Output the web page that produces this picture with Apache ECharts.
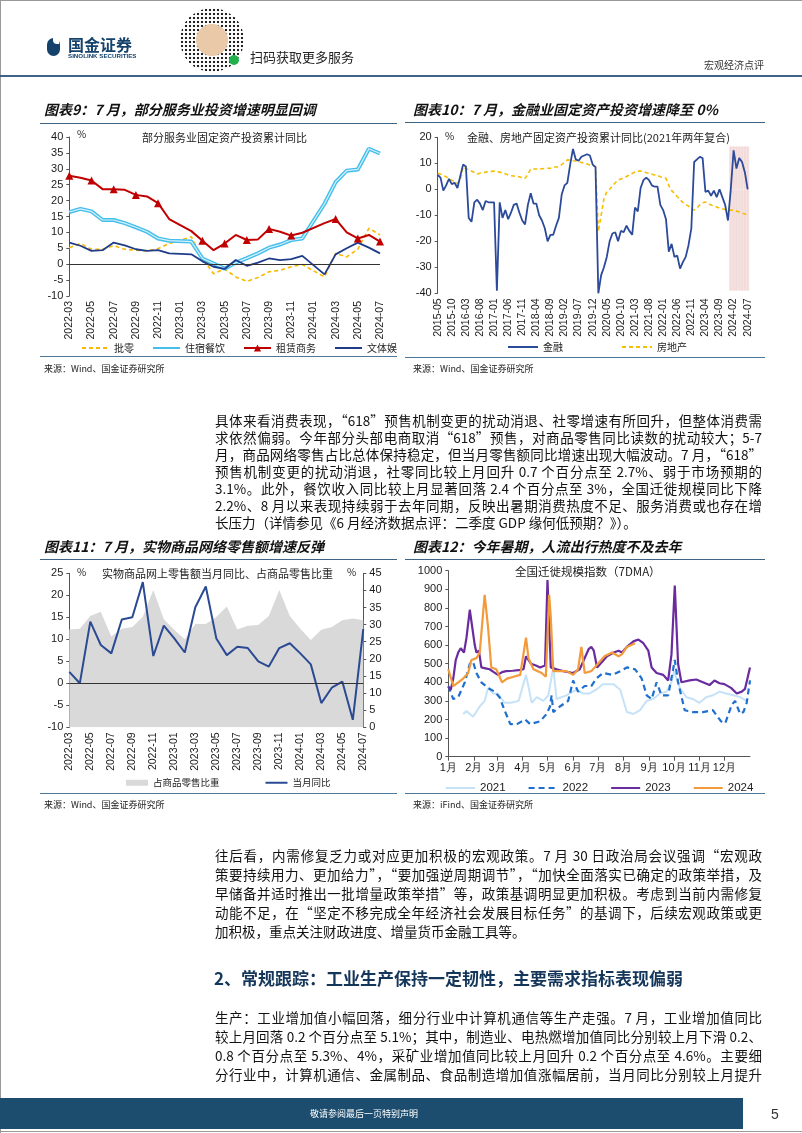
<!DOCTYPE html>
<html><head><meta charset="utf-8">
<script src="https://cdn.jsdelivr.net/npm/echarts@6/dist/echarts.min.js"></script>
<style>
html,body{margin:0;padding:0;background:#fff;}
#page{position:relative;width:802px;height:1133px;overflow:hidden;font-family:"Noto Sans CJK SC",sans-serif;color:#111;}
#chart{position:absolute;left:0;top:0;width:802px;height:1133px;}
.abs{position:absolute;white-space:nowrap;}
.hl{position:absolute;height:0;border-top:1.5px solid #3E6485;}
.ct{position:absolute;white-space:nowrap;font-weight:bold;font-style:italic;font-size:14px;line-height:16px;color:#111;}
.src{position:absolute;white-space:nowrap;font-size:9px;line-height:10px;color:#222;}
.inner{position:absolute;white-space:nowrap;font-size:11px;line-height:12px;color:#222;}
.ln{position:absolute;left:215px;width:547px;height:18px;line-height:18px;font-size:13.5px;white-space:nowrap;text-align:justify;text-align-last:justify;color:#111;}
.ln.last{text-align-last:left;}
</style></head>
<body><div id="page">
<div id="chart"></div>

<!-- header -->
<div class="abs" style="left:0;top:0;width:802px;height:0;border-top:1px solid #999"></div>
<div class="abs" style="left:0;top:0;width:0;height:1133px;border-left:1px solid #999"></div>
<div class="abs" style="left:47px;top:38px;width:13px;height:18px;border-radius:7px;background:#15426B"></div>
<div class="abs" style="left:53px;top:38px;width:6px;height:6px;background:#fff;border-radius:0 0 0 4px"></div>
<div class="abs" style="left:68px;top:35px;font-size:16px;font-weight:bold;color:#15426B;line-height:18px">国金证券</div>
<div class="abs" style="left:68px;top:52px;font-size:6.2px;font-weight:bold;color:#15426B;line-height:8px;font-family:'Liberation Sans',Arial">SINOLINK SECURITIES</div>
<div class="abs" style="left:180px;top:8px;width:64px;height:64px;border-radius:32px;background:radial-gradient(circle,#222 1px,transparent 1.6px) 0 0/4px 4px,#fff;"></div>
<div class="abs" style="left:196px;top:24px;width:32px;height:32px;border-radius:16px;background:#E9C9A8"></div>
<div class="abs" style="left:229px;top:55px;width:10px;height:10px;border-radius:5px;background:#21B04B"></div>
<div class="abs" style="left:250px;top:49px;font-size:13px;line-height:16px;color:#222">扫码获取更多服务</div>
<div class="abs" style="left:704px;top:59px;font-size:10px;line-height:12px;color:#333">宏观经济点评</div>
<div class="hl" style="left:0;top:75px;width:802px;border-top-width:2px"></div>

<!-- chart titles -->
<div class="ct" style="left:44px;top:101px">图表9：7 月，部分服务业投资增速明显回调</div>
<div class="hl" style="left:40px;top:123px;width:357px"></div>
<div class="ct" style="left:413px;top:101px">图表10：7 月，金融业固定资产投资增速降至 0%</div>
<div class="hl" style="left:405px;top:122px;width:360px"></div>
<div class="inner" style="left:142px;top:131px">部分服务业固定资产投资累计同比</div>
<div class="inner" style="left:77px;top:128px;font-size:10px">%</div>
<div class="inner" style="left:467px;top:131px">金融、房地产固定资产投资累计同比(2021年两年复合)</div>
<div class="inner" style="left:445px;top:130px;font-size:10px">%</div>
<div class="hl" style="left:40px;top:356px;width:357px;border-top-color:#4E7899"></div>
<div class="hl" style="left:405px;top:357px;width:360px;border-top-color:#4E7899"></div>
<div class="src" style="left:44px;top:364px">来源：Wind、国金证券研究所</div>
<div class="src" style="left:413px;top:364px">来源：Wind、国金证券研究所</div>

<div class="ln" style="top:411px">具体来看消费表现，“618”预售机制变更的扰动消退、社零增速有所回升，但整体消费需</div>
<div class="ln" style="top:428px">求依然偏弱。今年部分头部电商取消“618”预售，对商品零售同比读数的扰动较大；5-7</div>
<div class="ln" style="top:445px">月，商品网络零售占比总体保持稳定，但当月零售额同比增速出现大幅波动。7 月，“618”</div>
<div class="ln" style="top:462px">预售机制变更的扰动消退，社零同比较上月回升 0.7 个百分点至 2.7%、弱于市场预期的</div>
<div class="ln" style="top:479px">3.1%。此外，餐饮收入同比较上月显著回落 2.4 个百分点至 3%，全国迁徙规模同比下降</div>
<div class="ln" style="top:496px">2.2%、8 月以来表现持续弱于去年同期，反映出暑期消费热度不足、服务消费或也存在增</div>
<div class="ln last" style="top:513px">长压力（详情参见《6 月经济数据点评：二季度 GDP 缘何低预期？》）。</div>

<div class="ct" style="left:44px;top:538px">图表11：7 月，实物商品网络零售额增速反弹</div>
<div class="hl" style="left:40px;top:559px;width:357px"></div>
<div class="ct" style="left:413px;top:538px">图表12：今年暑期，人流出行热度不及去年</div>
<div class="hl" style="left:405px;top:559px;width:360px"></div>
<div class="inner" style="left:102px;top:567px">实物商品网上零售额当月同比、占商品零售比重</div>
<div class="inner" style="left:77px;top:566px;font-size:10px">%</div>
<div class="inner" style="left:347px;top:566px;font-size:10px">%</div>
<div class="inner" style="left:515px;top:565px;font-size:11.5px">全国迁徙规模指数（7DMA）</div>
<div class="hl" style="left:40px;top:793px;width:357px;border-top-color:#4E7899"></div>
<div class="hl" style="left:405px;top:793px;width:360px;border-top-color:#4E7899"></div>
<div class="src" style="left:44px;top:800px">来源：Wind、国金证券研究所</div>
<div class="src" style="left:413px;top:800px">来源：iFind、国金证券研究所</div>

<div class="ln" style="top:846px">往后看，内需修复乏力或对应更加积极的宏观政策。7 月 30 日政治局会议强调“宏观政</div>
<div class="ln" style="top:865px">策要持续用力、更加给力”，“要加强逆周期调节”，“加快全面落实已确定的政策举措，及</div>
<div class="ln" style="top:884px">早储备并适时推出一批增量政策举措”等，政策基调明显更加积极。考虑到当前内需修复</div>
<div class="ln" style="top:903px">动能不足，在“坚定不移完成全年经济社会发展目标任务”的基调下，后续宏观政策或更</div>
<div class="ln last" style="top:922px">加积极，重点关注财政进度、增量货币金融工具等。</div>

<div class="abs" style="left:214px;top:968px;font-size:17px;line-height:20px;font-weight:bold;color:#14365A">2、常规跟踪：工业生产保持一定韧性，主要需求指标表现偏弱</div>

<div class="ln" style="top:1008px">生产：工业增加值小幅回落，细分行业中计算机通信等生产走强。7 月，工业增加值同比</div>
<div class="ln" style="top:1027px">较上月回落 0.2 个百分点至 5.1%；其中，制造业、电热燃增加值同比分别较上月下滑 0.2、</div>
<div class="ln" style="top:1046px">0.8 个百分点至 5.3%、4%，采矿业增加值同比较上月回升 0.2 个百分点至 4.6%。主要细</div>
<div class="ln" style="top:1065px">分行业中，计算机通信、金属制品、食品制造增加值涨幅居前，当月同比分别较上月提升</div>

<div class="abs" style="left:0;top:1098px;width:743px;height:31px;background:#1C4D6F"></div>
<div class="abs" style="left:310px;top:1108px;font-size:9px;line-height:11px;color:#fff">敬请参阅最后一页特别声明</div>
<div class="abs" style="left:771px;top:1105px;font-size:14px;line-height:18px;color:#333;font-family:'Liberation Sans',Arial">5</div>
<div class="abs" style="left:0;top:1131px;width:802px;height:0;border-top:1px solid #999"></div>
</div>

<script>
// ---------- categories ----------
function genMonths(y0, m0, y1, m1) {
  const out = []; let y = y0, m = m0;
  while (y < y1 || (y === y1 && m <= m1)) { out.push(y + '-' + String(m).padStart(2, '0')); m++; if (m > 12) { m = 1; y++; } }
  return out;
}
const months9 = genMonths(2022, 3, 2024, 7);
const months10 = genMonths(2015, 5, 2024, 7);
const months11 = genMonths(2022, 3, 2024, 7);
const monthLabels12 = ['1月','2月','3月','4月','5月','6月','7月','8月','9月','10月','11月','12月'];
const monthStartDays12 = [0,31,59,90,120,151,181,212,243,273,304,334];

// ---------- chart 9 ----------
const retail9  = [5.2,6.5,4.7,4.7,5.8,4.7,4.4,4.2,4.9,6.5,null,8.6,1.8,-3.0,-1.5,-4.0,-5.4,-4.2,-2.4,-1.9,-0.8,-0.1,null,-4.0,3.4,2.3,4.7,11.3,9.2];
const hotel9   = [16.4,17.4,16.6,13.9,13.9,12.9,11.6,10.2,8.1,7.4,null,7.1,1.8,0.2,-1.4,0.5,1.9,3.4,5.2,6.2,7.6,8.1,null,19.0,25.8,29.4,29.8,36.3,34.8];
const lease9   = [27.8,27.2,26.3,23.6,23.6,23.4,21.8,21.3,19.2,14.2,null,10.4,7.4,4.4,6.5,9.2,7.6,7.8,11.1,10.2,9.0,9.9,null,12.9,14.2,10.0,8.1,9.2,7.1];
const culture9 = [6.8,5.8,4.2,4.4,6.8,5.9,4.7,4.2,4.4,3.4,null,3.1,0.9,-0.8,-1.5,1.3,-0.5,0.5,1.8,1.3,1.6,2.6,null,-3.2,3.1,5.0,6.8,5.2,3.4];

// ---------- chart 10 ----------
const finance10 = [5.5,4.5,-0.5,1.5,4,2,2.5,0.5,5,9.5,8.8,-11,-12.5,-5,-4,-5.5,-8,-4.5,-5,-5,
  -5,-39,-5,-11,-8,-11.5,-9,-6,-5.5,-9,-12,-13.5,-6,-1.5,-5.5,-5.5,-10,-12,-15,-20,
  -17.5,-17.5,-14,-11,-2,1.5,2.5,9.5,15.5,11.5,11,12.5,13,13.5,13,9.5,8.5,-40,-33,-30,
  -26,-20,-17,-16.5,-20,-16,-16.5,-14,-16,-17.5,-7,-8.5,0.5,3.5,4.5,3.5,1.5,1,1,-6,
  -8,-11.5,-24,-21,-26,-25.5,-30.5,-28,-26,-21.5,-15,10.5,11.5,12.5,12,-1,-0.5,-2.5,-0.5,-3,
  0,-3,-6,-12,0,15,8,12,10.5,6.5,0];
const realty10 = [6.2,5.8,5.3,4.8,4.0,3.5,3.0,2.3,3.6,8.7,8.0,7.5,7,6.5,5.9,6.2,6.4,6.6,6.8,6.9,
  7,7,6.6,6.3,6,5.5,5.2,5.1,5.1,4.8,4.4,4.2,5.8,7.8,7.8,7.8,7.8,7.9,8,8.1,
  8.1,8.4,8.6,8.7,9.5,10.3,11.3,11.2,11,10.9,10.6,10.3,10,9.7,9.3,9.1,8.8,-16.3,-10,-3.5,
  -1,0,1.2,2.5,3.6,4,4.4,4.9,5.5,6.1,6.7,7,7,6.8,6.4,6.1,5.8,5.5,5.3,4.8,
  4.5,4.2,1.5,-0.5,-1.5,-2.8,-4,-5,-5.8,-6.5,-7.5,-8,-7.2,-6,-5.2,-4.9,-5.5,-6,-6.5,-6.8,
  -7.2,-7.5,-7.8,-8,-8,-8.1,-8.4,-8.7,-9.1,-9.5,-10];
const shadeFrom10 = '2024-01', shadeHigh10 = 16.5, shadeLow10 = -39;

// ---------- chart 11 ----------
const share11 = [28.6,28.8,32.5,33.8,26.5,28.8,29.3,32.3,40.1,31.6,28.5,25.7,30.2,30.2,32.2,35.3,28.6,29.7,29.9,32.5,40.1,32.5,28.8,25.5,28.5,29.3,31.3,31.8,31.3];
const yoy11   = [2.6,0,14.0,8.7,6.8,14.5,15.0,23.0,6.2,13.1,10.2,7.0,17.3,22.0,10.2,6.4,8.3,8.0,5.0,3.8,8.0,9.1,6.8,4.3,-4.5,-1.0,0.4,-8.3,12.3];

// ---------- chart 12 ([day of year, index]) ----------
const y2021 = [[18,230],[22,245],[30,215],[38,270],[44,300],[48,370],[54,340],[60,340],[68,290],[76,290],[85,300],[94,440],[101,290],[107,320],[115,300],[121,330],[127,480],[131,310],[143,330],[155,360],[163,340],[171,340],[179,360],[187,390],[200,390],[208,360],[216,240],[224,230],[232,250],[240,300],[248,310],[256,340],[264,350],[270,400],[273,460],[280,370],[288,320],[296,310],[304,290],[312,320],[320,330],[328,350],[336,340],[345,330],[353,320],[361,300]];
const y2022 = [[0,380],[6,310],[12,320],[20,400],[26,500],[30,510],[34,450],[40,400],[48,370],[56,350],[62,320],[68,250],[75,175],[83,175],[93,200],[99,175],[111,190],[119,230],[123,270],[125,330],[127,240],[135,270],[145,300],[151,410],[157,350],[165,380],[173,380],[179,420],[187,450],[199,440],[208,460],[216,480],[226,470],[234,420],[240,330],[246,310],[252,400],[258,330],[266,330],[272,470],[274,520],[278,400],[286,250],[296,240],[308,240],[320,250],[330,190],[335,180],[343,280],[347,300],[353,230],[357,240],[361,290],[365,410]];
const y2023 = [[0,376],[3,360],[6,420],[9,520],[12,560],[15,583],[19,560],[22,640],[26,790],[28,780],[32,600],[34,560],[37,570],[40,480],[45,475],[50,470],[55,455],[60,440],[65,455],[70,460],[78,462],[85,465],[91,470],[94,540],[100,500],[106,490],[111,480],[117,490],[120,950],[124,480],[131,470],[139,460],[151,450],[159,470],[170,580],[173,590],[176,570],[180,480],[184,500],[192,540],[200,560],[206,570],[210,560],[216,590],[224,620],[230,630],[236,610],[242,570],[246,480],[252,450],[260,440],[266,410],[270,550],[274,920],[278,500],[282,400],[292,410],[300,415],[308,400],[316,385],[322,410],[328,395],[334,390],[342,370],[349,340],[355,350],[359,365],[365,480]];
const y2024 = [[0,470],[6,380],[12,400],[18,420],[24,450],[28,520],[34,530],[38,560],[44,870],[48,700],[52,480],[58,470],[65,400],[71,420],[79,430],[87,440],[94,640],[97,530],[103,470],[113,450],[118,430],[122,870],[124,750],[127,460],[135,460],[143,460],[151,440],[157,470],[161,590],[165,450],[173,460],[181,500],[189,540],[198,560],[206,540],[210,550],[216,590],[226,610]];

// ---------- build ----------
const AX = { color: '#1a1a1a', fontSize: 11, fontFamily: 'Liberation Sans, Arial, sans-serif' };
const LINE = { show: true, lineStyle: { color: '#555', width: 1 } };
const TICK = { show: true, length: 3, lineStyle: { color: '#555' } };
const CJK = 'Noto Sans CJK SC';
const HIDE_SYM = { opacity: 0 };

const i0 = months10.indexOf(shadeFrom10);
const shadeUp = months10.map((m, i) => i >= i0 ? shadeHigh10 : null);
const shadeDn = months10.map((m, i) => i >= i0 ? shadeLow10 : null);

function yAxis(gi, min, max, interval, pos) {
  return { type: 'value', gridIndex: gi, min, max, interval, position: pos || 'left',
    axisLine: LINE, axisTick: TICK, splitLine: { show: false },
    axisLabel: Object.assign({ margin: 6, formatter: v => String(v) }, AX) };
}
function catAxis(gi, data, interval) {
  return { type: 'category', gridIndex: gi, data, boundaryGap: false,
    axisLine: { show: false }, axisTick: { show: false },
    axisLabel: Object.assign({ rotate: 90, interval, margin: 5 }, AX, { fontSize: 10.5 }) };
}
function ln(name, xi, yi, data, color, width, type, extra) {
  return Object.assign({ name, type: 'line', xAxisIndex: xi, yAxisIndex: yi, data, symbol: 'none',
    lineStyle: { color, width, type: type || 'solid' }, itemStyle: { color } }, extra || {});
}
const zeroLine = { silent: true, symbol: 'none', label: { show: false }, lineStyle: { color: '#333', width: 1, type: 'solid' }, data: [{ yAxis: 0 }] };

const option = {
  animation: false,
  grid: [
    { left: 69.3, top: 137, width: 310.7, height: 159 },
    { left: 437.7, top: 137.3, width: 310, height: 156 },
    { left: 69.3, top: 573.3, width: 294, height: 154 },
    { left: 448.3, top: 570.7, width: 301.7, height: 186 }
  ],
  xAxis: [
    catAxis(0, months9, 1),
    catAxis(1, months10, 4),
    catAxis(2, months11, 1),
    { type: 'value', gridIndex: 3, min: 0, max: 365,
      axisLine: { show: true, onZero: false, lineStyle: { color: '#555', width: 1 } },
      axisTick: { show: true, length: 4, customValues: monthStartDays12, lineStyle: { color: '#555' } },
      splitLine: { show: false },
      axisLabel: Object.assign({ customValues: monthStartDays12, margin: 6,
        formatter: v => monthLabels12[monthStartDays12.indexOf(v)] }, AX) }
  ],
  yAxis: [
    yAxis(0, -10, 40, 5),
    yAxis(1, -40, 20, 10),
    yAxis(2, -10, 25, 5),
    yAxis(2, 0, 45, 5, 'right'),
    yAxis(3, 0, 1000, 100)
  ],
  legend: [
    { data: [{ name: '批零', itemStyle: HIDE_SYM }, { name: '住宿餐饮', itemStyle: HIDE_SYM }, '租赁商务', { name: '文体娱', itemStyle: HIDE_SYM }],
      left: 76, top: 338, itemWidth: 27, itemHeight: 9, itemGap: 18,
      textStyle: { fontFamily: CJK, fontSize: 10, color: '#222' } },
    { data: [{ name: '金融', itemStyle: HIDE_SYM }, { name: '房地产', itemStyle: HIDE_SYM }], left: 502, top: 337, itemWidth: 30, itemHeight: 9, itemGap: 58,
      textStyle: { fontFamily: CJK, fontSize: 10, color: '#222' } },
    { data: [{ name: '占商品零售比重', icon: 'rect' }, { name: '当月同比', itemStyle: HIDE_SYM }], left: 121, top: 773, itemWidth: 22, itemHeight: 6, itemGap: 45,
      textStyle: { fontFamily: CJK, fontSize: 9.5, color: '#222' } },
    { data: ['2021', '2022', '2023', '2024'].map(n => ({ name: n, itemStyle: HIDE_SYM })), left: 440, top: 777, itemWidth: 29, itemHeight: 9, itemGap: 22,
      textStyle: { fontFamily: 'Liberation Sans, Arial', fontSize: 11.5, color: '#222' } }
  ],
  series: [
    // chart 9
    ln('批零', 0, 0, retail9, '#F7B900', 1.6, [4, 3], { connectNulls: true, markLine: zeroLine }),
    ln('住宿餐饮', 0, 0, hotel9, '#45BEEB', 4, 'solid', { connectNulls: true }),
    ln('住宿餐饮内线', 0, 0, hotel9, '#D4F1FC', 1.2, 'solid', { connectNulls: true }),
    ln('租赁商务', 0, 0, lease9, '#C00000', 2, 'solid', { connectNulls: true, symbol: 'triangle', symbolSize: 8 }),
    ln('文体娱', 0, 0, culture9, '#1F3C88', 1.8, 'solid', { connectNulls: true }),
    // chart 10
    { name: 'shadeUp', type: 'bar', xAxisIndex: 1, yAxisIndex: 1, data: shadeUp, stack: 's', barCategoryGap: '0%', barGap: '0%',
      itemStyle: { color: '#F2DCDB', borderColor: '#F2DCDB', borderWidth: 0.8 }, silent: true },
    { name: 'shadeDn', type: 'bar', xAxisIndex: 1, yAxisIndex: 1, data: shadeDn, stack: 's', barCategoryGap: '0%', barGap: '0%',
      itemStyle: { color: '#F2DCDB', borderColor: '#F2DCDB', borderWidth: 0.8 }, silent: true },
    ln('房地产', 1, 1, realty10, '#F5BE00', 1.6, [4, 3]),
    ln('金融', 1, 1, finance10, '#2B4A9A', 1.8),
    // chart 11
    ln('占商品零售比重', 2, 3, share11, '#D9D9D9', 0, 'solid', { areaStyle: { color: '#D9D9D9', opacity: 1 } }),
    ln('当月同比', 2, 2, yoy11, '#2B4A94', 2, 'solid', { markLine: zeroLine }),
    // chart 12
    ln('2021', 3, 4, y2021, '#C6E2F7', 2),
    ln('2022', 3, 4, y2022, '#1F6FCF', 2.2, [6, 4]),
    ln('2023', 3, 4, y2023, '#6A2B9E', 2.2),
    ln('2024', 3, 4, y2024, '#F39A3B', 2.2)
  ]
};
const chart = echarts.init(document.getElementById('chart'), null, { renderer: 'canvas' });
chart.setOption(option);
</script>
</body></html>
